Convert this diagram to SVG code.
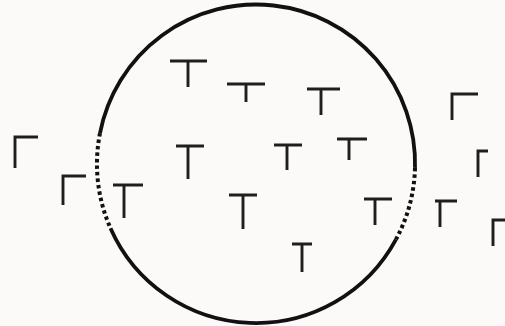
<svg xmlns="http://www.w3.org/2000/svg" width="505" height="326" viewBox="0 0 505 326">
<style>
.m{fill:none;stroke:#1e1e1e;stroke-width:2.9;stroke-linecap:butt}
.c{fill:none;stroke:#111;stroke-width:3.8}
.d{fill:none;stroke:#111;stroke-width:4;stroke-dasharray:3.5 3}
</style>
<rect width="505" height="326" fill="#fbfaf8"/>
<g id="cell">
<path class="c" d="M 415.0 167.9 A 159 159 0 0 0 100.0 133.1"/>
<path class="c" d="M 110.5 228.2 A 159 159 0 0 0 396.0 239.4"/>
<path class="d" d="M 100.0 133.1 A 159 159 0 0 0 110.5 228.2"/>
<path class="d" d="M 415.0 167.9 A 159 159 0 0 1 396.0 239.4"/>
</g>
<g id="inside">
<path class="m" d="M170 61H207M188 61V87"/>
<path class="m" d="M227 84H265M246 84V102"/>
<path class="m" d="M307 89H340M321 89V115"/>
<path class="m" d="M176 146H204M188 146V179"/>
<path class="m" d="M274 145H302M287 145V170"/>
<path class="m" d="M337 139H367M349 139V160"/>
<path class="m" d="M229 195H257M243 195V229"/>
<path class="m" d="M364 199H392M375 199V225"/>
<path class="m" d="M292 244H312M302 244V272"/>
<path class="m" d="M113 185H143M124 185V218"/>
</g>
<g id="outside">
<path class="m" d="M15 168V137H38"/>
<path class="m" d="M63 205V176H86"/>
<path class="m" d="M452 120V94H478"/>
<path class="m" d="M478 177V151H488"/>
<path class="m" d="M435 201H457M440 201V227"/>
<path class="m" d="M493 246V220H505"/>
</g>
</svg>
